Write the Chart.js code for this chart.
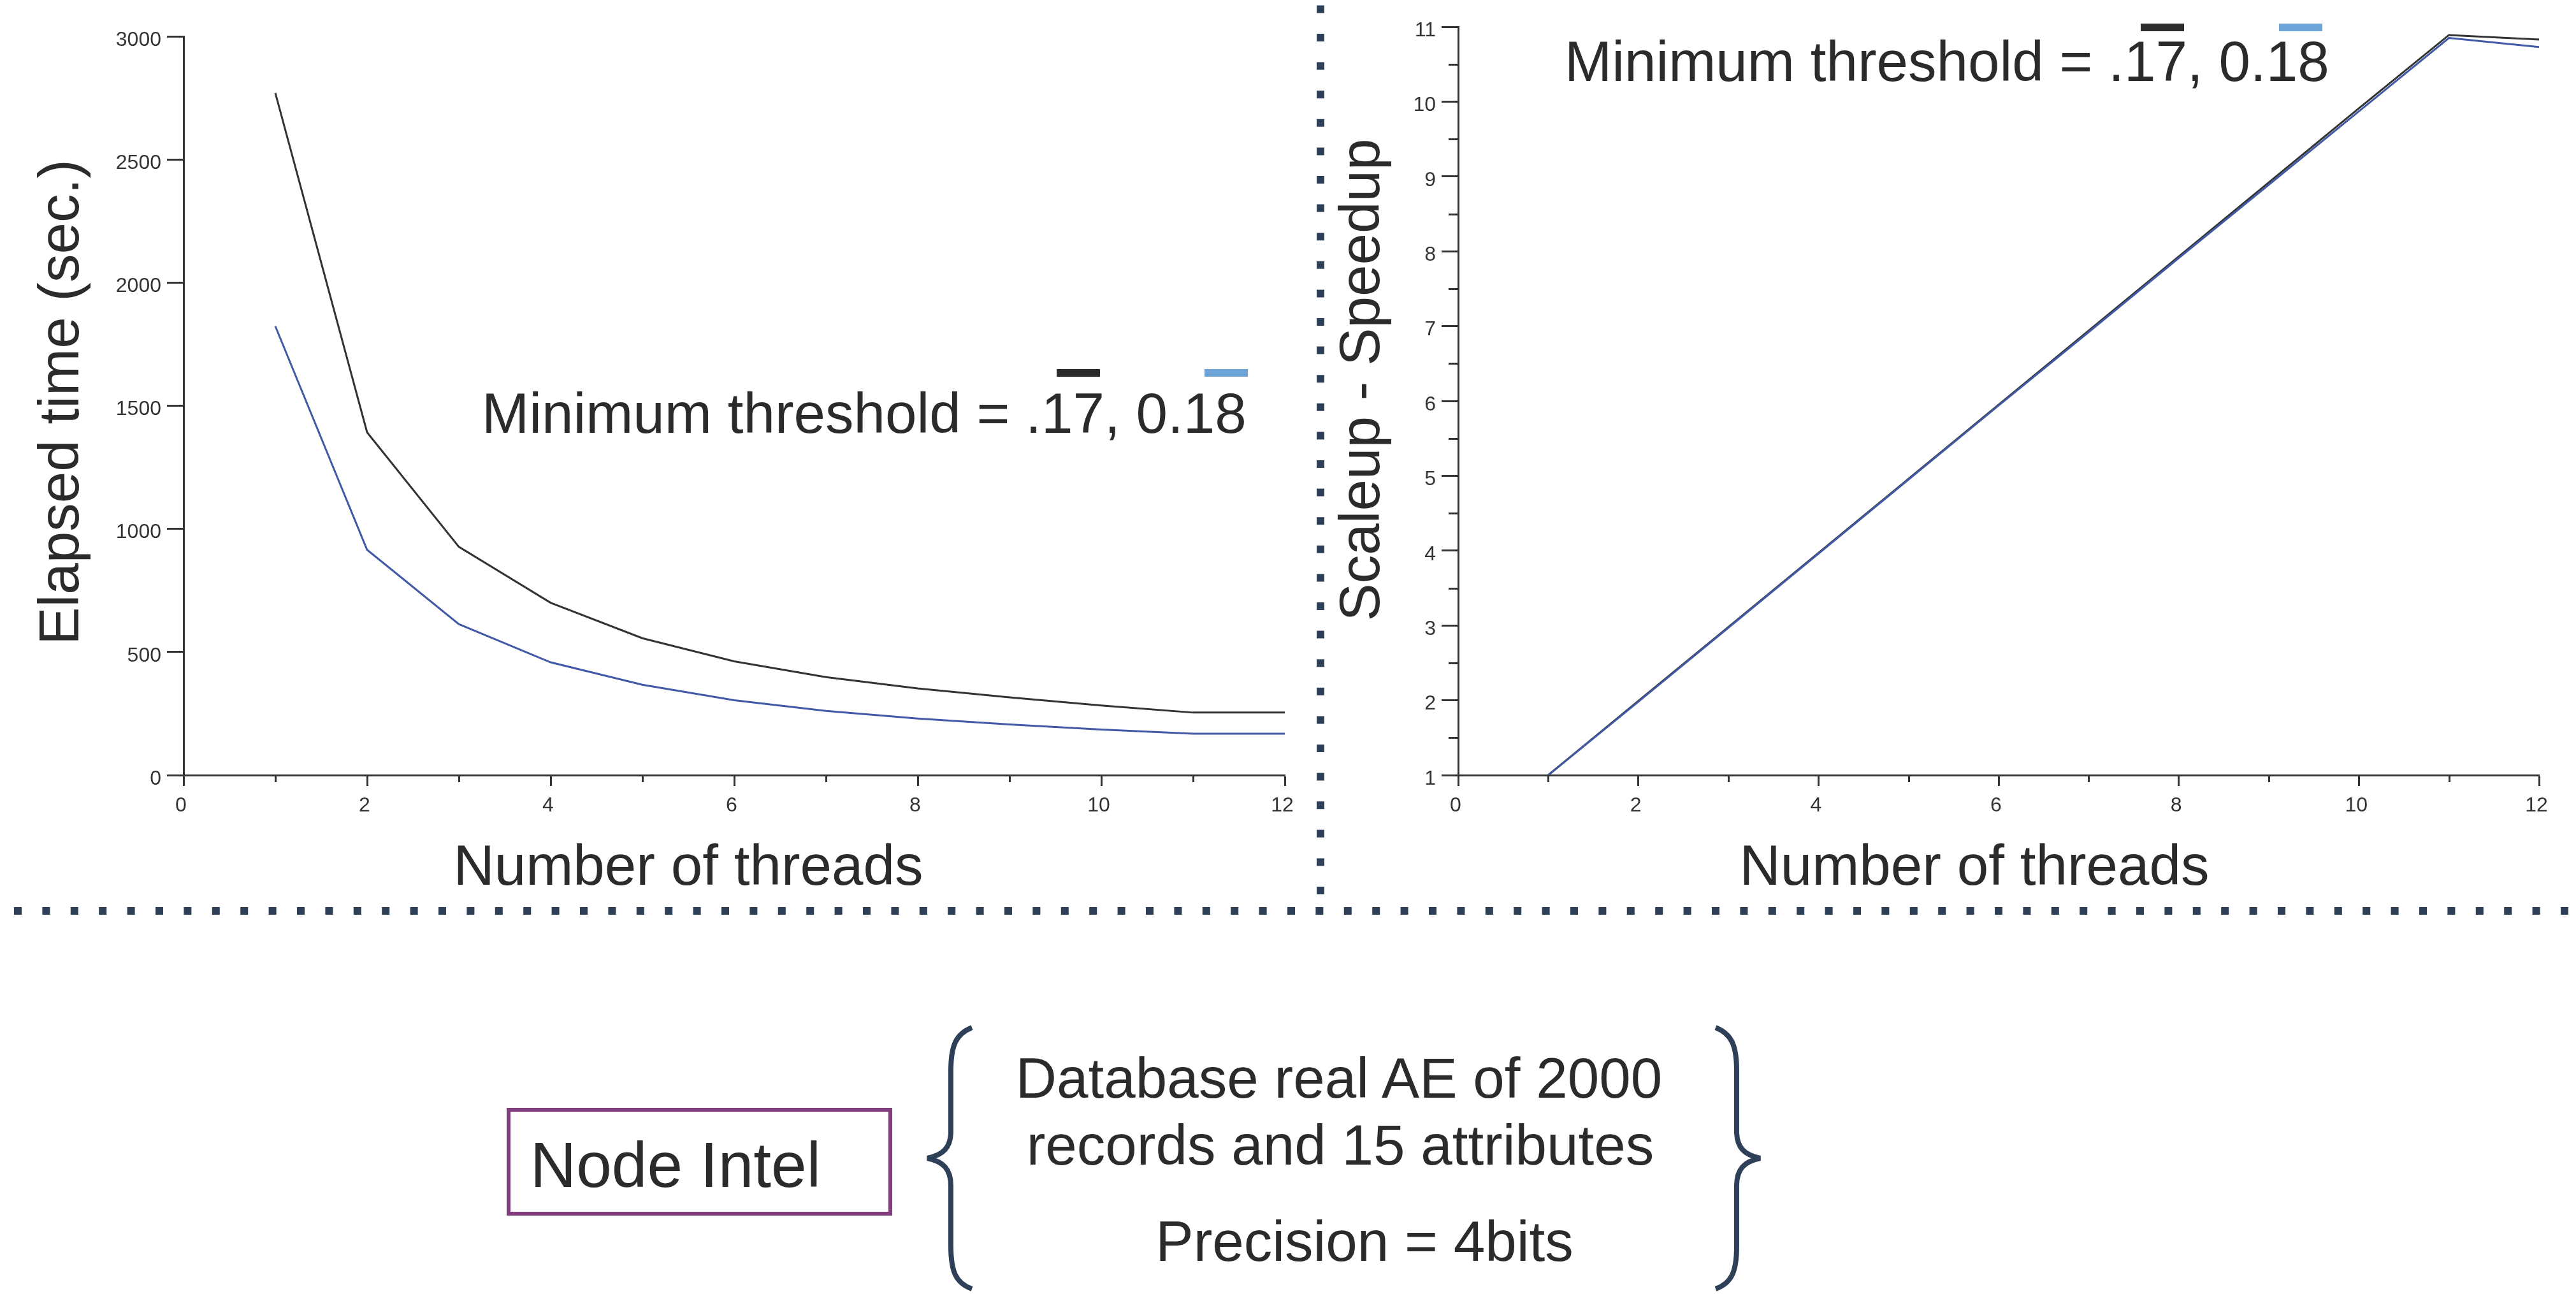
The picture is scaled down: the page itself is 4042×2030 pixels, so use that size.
<!DOCTYPE html>
<html>
<head>
<meta charset="utf-8">
<script src="https://cdn.jsdelivr.net/npm/chart.js@4.4.1/dist/chart.umd.min.js"></script>
<style>
  html, body { margin: 0; padding: 0; background: #fff; }
  body { width: 4042px; height: 2030px; position: relative; overflow: hidden; font-family: 'Liberation Sans', Arial, sans-serif; }
  canvas { position: absolute; top: 0; }
  #cTime { left: 0; }
  #cSpeed { left: 2080px; }
  #overlay { position: absolute; left: 0; top: 0; }
</style>
</head>
<body>
<canvas id="cTime" width="2060" height="1440"></canvas>
<canvas id="cSpeed" width="1962" height="1440"></canvas>

<svg id="overlay" width="4042" height="2030" xmlns="http://www.w3.org/2000/svg">
  <!-- separators -->
  <line x1="2072" y1="8.4" x2="2072" y2="1410" stroke="#2e3f58" stroke-width="12" stroke-dasharray="12 32.6"/>
  <line x1="22" y1="1429" x2="4042" y2="1429" stroke="#2e3f58" stroke-width="12" stroke-dasharray="12 32.4"/>

  <!-- node box -->
  <rect x="798" y="1741" width="599" height="163" fill="none" stroke="#813c7e" stroke-width="6"/>
  <text x="832" y="1862" font-size="100" fill="#2b2b2b" font-family="Liberation Sans, Arial, sans-serif">Node Intel</text>

  <!-- braces -->
  <path d="M1525,1612 C1500,1622 1492,1640 1492,1680 L1492,1775 C1492,1800 1480,1812 1455,1817 C1480,1822 1492,1834 1492,1860 L1492,1955 C1492,1995 1500,2013 1525,2022"
        fill="none" stroke="#2e3f58" stroke-width="8"/>
  <path d="M2692,1612 C2717,1622 2725,1640 2725,1680 L2725,1775 C2725,1800 2737,1812 2762,1817 C2737,1822 2725,1834 2725,1860 L2725,1955 C2725,1995 2717,2013 2692,2022"
        fill="none" stroke="#2e3f58" stroke-width="8"/>

  <g font-size="89" fill="#2b2b2b" font-family="Liberation Sans, Arial, sans-serif" text-anchor="middle">
    <text x="2101" y="1722">Database real AE of 2000</text>
    <text x="2103" y="1827">records and 15 attributes</text>
    <text x="2141" y="1978">Precision = 4bits</text>
  </g>
</svg>

<script>
// ===== DATA =====
const threads = [1, 2, 3, 4, 5, 6, 7, 8, 9, 10, 11, 12];

// elapsed time (sec.), threshold .17 (black) and 0.18 (blue)
const time017 = [2770, 1392, 927, 700, 556, 462, 398, 352, 316, 283, 254, 254];
const time018 = [1823, 915, 613, 458, 367, 304, 261, 230, 206, 185, 168, 168];

// scaleup - speedup
const speed017 = [1, 1.99, 2.98, 3.97, 4.96, 5.95, 6.94, 7.93, 8.92, 9.91, 10.89, 10.83];
const speed018 = [1, 1.98, 2.97, 3.96, 4.95, 5.94, 6.92, 7.91, 8.89, 9.87, 10.85, 10.73];

const threadMinorTicks = [1, 3, 5, 7, 9, 11];
const speedMinorTicks = [1.5, 2.5, 3.5, 4.5, 5.5, 6.5, 7.5, 8.5, 9.5, 10.5];

const NOTE = 'Minimum threshold = .17, 0.18';

// ===== STYLE =====
const AXIS = '#333333';
const TEXT = '#2b2b2b';
const BLACK = '#333333';
const BLUE = '#4159a6';
const BAR_BLACK = '#2b2b2b';
const BAR_BLUE = '#6fa4d9';
const FAMILY = "'Liberation Sans', Arial, sans-serif";

Chart.defaults.font.family = FAMILY;
Chart.defaults.color = AXIS;

const pts = (xs, ys) => xs.map((x, i) => ({ x, y: ys[i] }));

// minor ticks, axis titles and the threshold note
const decor = {
  id: 'decor',
  afterDraw(chart, args, o) {
    const { ctx, chartArea: a, scales } = chart;
    ctx.save();
    ctx.strokeStyle = AXIS;
    ctx.lineWidth = 3;
    ctx.beginPath();
    o.minorX.forEach(v => {
      const px = Math.round(scales.x.getPixelForValue(v)) + 0.5;
      ctx.moveTo(px, a.bottom); ctx.lineTo(px, a.bottom + 11);
    });
    o.minorY.forEach(v => {
      const py = Math.round(scales.y.getPixelForValue(v)) + 0.5;
      ctx.moveTo(a.left - 15, py); ctx.lineTo(a.left, py);
    });
    ctx.stroke();

    ctx.fillStyle = TEXT;
    ctx.font = `89px ${FAMILY}`;
    ctx.textBaseline = 'middle';
    ctx.textAlign = 'center';
    ctx.fillText(o.xTitle.text, o.xTitle.x, o.xTitle.y);
    ctx.save();
    ctx.translate(o.yTitle.x, o.yTitle.y);
    ctx.rotate(-Math.PI / 2);
    ctx.fillText(o.yTitle.text, 0, 0);
    ctx.restore();

    ctx.textBaseline = 'alphabetic';
    ctx.textAlign = 'left';
    ctx.fillText(NOTE, o.note.x, o.note.y);
    o.note.bars.forEach(([dx, color]) => {
      ctx.fillStyle = color;
      ctx.fillRect(o.note.x + dx, o.note.barTop, 68, 12);
    });
    ctx.restore();
  }
};

function axisX() {
  return {
    type: 'linear', min: 0, max: 12,
    afterFit: s => { s.height = 224; },
    border: { display: true, color: AXIS, width: 3 },
    grid: { drawOnChartArea: false, drawTicks: true, tickLength: 17, color: AXIS, tickWidth: 3 },
    ticks: { stepSize: 2, padding: 12, labelOffset: -4, autoSkip: false, maxRotation: 0, color: AXIS, font: { size: 32 } }
  };
}

function axisY(min, max, step, width) {
  return {
    type: 'linear', min, max,
    afterFit: s => { s.width = width; },
    border: { display: true, color: AXIS, width: 3 },
    grid: { drawOnChartArea: false, drawTicks: true, tickLength: 26, color: AXIS, tickWidth: 3 },
    ticks: { stepSize: step, padding: 9, labelOffset: 6, autoSkip: false, color: AXIS, font: { size: 32 }, callback: v => String(v) }
  };
}

function lineSet(data, color, order) {
  return { data, borderColor: color, borderWidth: 3, pointRadius: 0, tension: 0, fill: false, order };
}

function baseOptions(padding, yAxis, decorOpts) {
  return {
    responsive: false,
    animation: false,
    layout: { padding },
    plugins: { legend: { display: false }, tooltip: { enabled: false }, decor: decorOpts },
    scales: { x: axisX(), y: yAxis }
  };
}

// Chart 1: elapsed time
new Chart(document.getElementById('cTime'), {
  type: 'line',
  data: {
    datasets: [
      lineSet(pts(threads, time017), BLACK, 2),
      lineSet(pts(threads, time018), BLUE, 1)
    ]
  },
  options: baseOptions(
    { top: 57, right: 44, left: 0, bottom: 0 },
    axisY(0, 3000, 500, 288),
    {
      minorX: threadMinorTicks, minorY: [],
      xTitle: { text: 'Number of threads', x: 1080, y: 1363 },
      yTitle: { text: 'Elapsed time (sec.)', x: 98, y: 631 },
      note: { x: 756, y: 679, barTop: 579, bars: [[902, BAR_BLACK], [1134, BAR_BLUE]] }
    }
  ),
  plugins: [decor]
});

// Chart 2: scaleup - speedup
new Chart(document.getElementById('cSpeed'), {
  type: 'line',
  data: {
    datasets: [
      lineSet(pts(threads, speed017), BLACK, 2),
      lineSet(pts(threads, speed018), BLUE, 1)
    ]
  },
  options: baseOptions(
    { top: 42, right: 58, left: 0, bottom: 0 },
    axisY(1, 11, 1, 208),
    {
      minorX: threadMinorTicks, minorY: speedMinorTicks,
      xTitle: { text: 'Number of threads', x: 1018, y: 1363 },
      yTitle: { text: 'Scaleup - Speedup', x: 59, y: 596 },
      note: { x: 375, y: 127, barTop: 37, bars: [[904, BAR_BLACK], [1121, BAR_BLUE]] }
    }
  ),
  plugins: [decor]
});
</script>
</body>
</html>
